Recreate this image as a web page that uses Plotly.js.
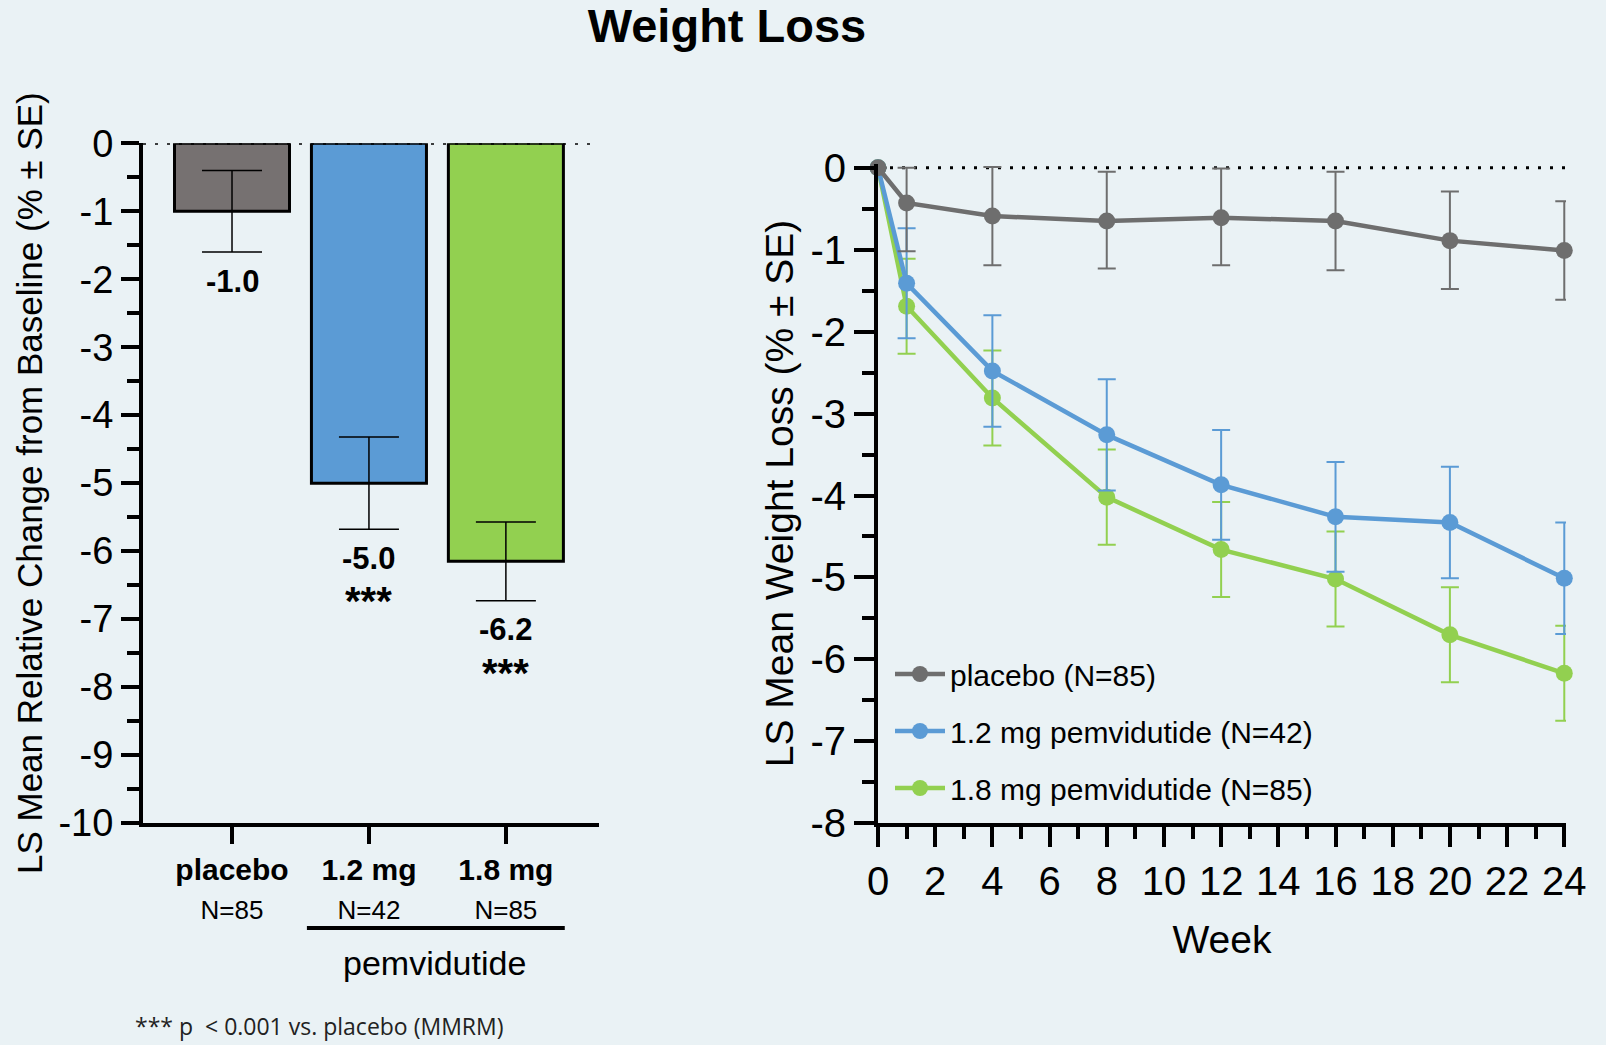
<!DOCTYPE html>
<html>
<head>
<meta charset="utf-8">
<script src="https://cdn.plot.ly/plotly-3.0.1.min.js"></script>
<style>
  html, body { margin: 0; padding: 0; background: #eaf2f5; }
  #chart { width: 1606px; height: 1045px; }
</style>
</head>
<body>
<div id="chart"></div>
<script>
// ---------- Bar chart data (left) ----------
const barCategories = ['placebo', '1.2 mg', '1.8 mg'];
const barN = ['N=85', 'N=42', 'N=85'];
const barValues = [-1.0, -5.0, -6.15];
const barSE = [0.6, 0.68, 0.58];
const barLabels = ['-1.0', '-5.0', '-6.2'];
const barSig = ['', '***', '***'];
const barColors = ['#767171', '#5b9bd5', '#92d050'];
const leftTickVals = [0, -1, -2, -3, -4, -5, -6, -7, -8, -9, -10];
const leftTickText = ['0', '-1', '-2', '-3', '-4', '-5', '-6', '-7', '-8', '-9', '-10'];

// ---------- Time-course data (right) ----------
const weeks = [0, 1, 4, 8, 12, 16, 20, 24];
const placebo = [0, -0.43, -0.59, -0.65, -0.61, -0.65, -0.89, -1.01];
const placeboSEup = [0, 0.43, 0.6, 0.6, 0.6, 0.6, 0.6, 0.6];
const placeboSEdown = [0, 0.59, 0.6, 0.58, 0.58, 0.6, 0.59, 0.6];
const dose12 = [0, -1.41, -2.48, -3.26, -3.87, -4.26, -4.33, -5.01];
const dose12SE = [0, 0.67, 0.68, 0.68, 0.67, 0.67, 0.68, 0.68];
const dose18 = [0, -1.69, -2.81, -4.02, -4.66, -5.02, -5.70, -6.17];
const dose18SE = [0, 0.58, 0.58, 0.58, 0.58, 0.58, 0.58, 0.58];
const seriesNames = ['placebo (N=85)', '1.2 mg pemvidutide (N=42)', '1.8 mg pemvidutide (N=85)'];
const lineColors = ['#6e6e6e', '#5b9bd5', '#92d050'];
const rightTickVals = [0, -1, -2, -3, -4, -5, -6, -7, -8];
const rightTickText = ['0', '-1', '-2', '-3', '-4', '-5', '-6', '-7', '-8'];

const FONT = 'Liberation Sans, Arial, Helvetica, sans-serif';

const tickText = barCategories.map((c, i) =>
  '<b>' + c + '</b><br><span style="font-size:26px">' + barN[i] + '</span>');

const traces = [];

traces.push({
  type: 'bar',
  x: barCategories,
  y: barValues,
  width: 0.84,
  marker: { color: barColors, line: { color: '#000000', width: 3 } },
  error_y: { type: 'data', array: barSE, visible: true, color: '#000000', thickness: 1.5, width: 30 },
  xaxis: 'x', yaxis: 'y',
  showlegend: false,
  hoverinfo: 'skip'
});

const lineSeries = [
  { y: dose18, up: dose18SE, down: dose18SE, idx: 2 },
  { y: dose12, up: dose12SE, down: dose12SE, idx: 1 },
  { y: placebo, up: placeboSEup, down: placeboSEdown, idx: 0 }
];
lineSeries.forEach(s => {
  traces.push({
    type: 'scatter',
    mode: 'lines+markers',
    x: weeks,
    y: s.y,
    name: seriesNames[s.idx],
    legendrank: s.idx + 1,
    legendgroup: 'g' + s.idx,
    line: { color: lineColors[s.idx], width: 4.5 },
    marker: { color: lineColors[s.idx], size: 17 },
    error_y: { type: 'data', symmetric: false, array: s.up, arrayminus: s.down, visible: true,
               color: lineColors[s.idx], thickness: 2, width: 9 },
    cliponaxis: false,
    xaxis: 'x2', yaxis: 'y2'
  });
});

const annotations = [];
barCategories.forEach((c, i) => {
  annotations.push({
    xref: 'x', yref: 'y', x: c, y: barValues[i] - barSE[i],
    text: '<b>' + barLabels[i] + '</b>', showarrow: false,
    yanchor: 'middle', yshift: -29,
    font: { family: FONT, size: 31, color: '#000000' }
  });
  if (barSig[i]) {
    annotations.push({
      xref: 'x', yref: 'y', x: c, y: barValues[i] - barSE[i],
      text: '<b>' + barSig[i] + '</b>', showarrow: false,
      yanchor: 'middle', yshift: -72,
      font: { family: FONT, size: 40, color: '#000000' }
    });
  }
});
annotations.push({
  xref: 'paper', yref: 'paper', x: 434 / 1606, y: 1 - 963 / 1045,
  text: 'pemvidutide', showarrow: false, xanchor: 'center', yanchor: 'middle',
  font: { family: FONT, size: 34, color: '#000000' }
});
annotations.push({
  xref: 'paper', yref: 'paper', x: 133 / 1606, y: 1 - 1026 / 1045,
  text: '*** p  < 0.001 vs. placebo (MMRM)', showarrow: false, xanchor: 'left', yanchor: 'middle',
  font: { family: 'Open Sans, Noto Sans, sans-serif', size: 23, color: '#222222' }
});

const layout = {
  width: 1606, height: 1045,
  margin: { l: 0, r: 0, t: 0, b: 0 },
  paper_bgcolor: '#eaf2f5',
  plot_bgcolor: 'rgba(0,0,0,0)',
  font: { family: FONT, color: '#000000' },
  title: {
    text: '<b>Weight Loss</b>',
    x: 727 / 1606, xanchor: 'center', xref: 'paper',
    y: 1 - 26 / 1045, yanchor: 'middle', yref: 'container',
    font: { family: FONT, size: 47, color: '#000000' }
  },
  showlegend: true,
  legend: {
    x: 890 / 1606, xanchor: 'left', y: 1 - 648 / 1045, yanchor: 'top',
    bgcolor: 'rgba(0,0,0,0)',
    font: { family: FONT, size: 30, color: '#000000' },
    traceorder: 'grouped', tracegroupgap: 15, itemwidth: 50
  },
  xaxis: {
    domain: [143 / 1606, 599 / 1606], anchor: 'y',
    type: 'category', range: [-0.65, 2.68],
    tickmode: 'array', tickvals: barCategories, ticktext: tickText,
    showline: true, linewidth: 4, linecolor: '#000000',
    ticks: 'outside', ticklen: 17, tickwidth: 4, tickcolor: '#000000',
    tickfont: { family: FONT, size: 30, color: '#000000' },
    showgrid: false, zeroline: false, fixedrange: true
  },
  yaxis: {
    domain: [1 - 823 / 1045, 1 - 143.3 / 1045], anchor: 'x',
    range: [-10, 0],
    tickmode: 'array', tickvals: leftTickVals, ticktext: leftTickText,
    showline: true, linewidth: 4, linecolor: '#000000',
    ticks: 'outside', ticklen: 18, tickwidth: 4, tickcolor: '#000000',
    minor: { ticks: 'outside', tick0: 0, dtick: 0.5, ticklen: 12, tickwidth: 4, tickcolor: '#000000', showgrid: false },
    tickfont: { family: FONT, size: 38, color: '#000000' },
    showgrid: false, zeroline: false, fixedrange: true,
    title: { text: 'LS Mean Relative Change from Baseline (% ± SE)', standoff: 6,
             font: { family: FONT, size: 35, color: '#000000' } }
  },
  xaxis2: {
    domain: [878 / 1606, 1566 / 1606], anchor: 'y2',
    range: [0, 24.06], tick0: 0, dtick: 2,
    showline: true, linewidth: 4, linecolor: '#000000',
    ticks: 'outside', ticklen: 20, tickwidth: 4, tickcolor: '#000000',
    minor: { ticks: 'outside', dtick: 1, ticklen: 12, tickwidth: 4, tickcolor: '#000000', showgrid: false },
    tickfont: { family: FONT, size: 40, color: '#000000' },
    showgrid: false, zeroline: false, fixedrange: true,
    title: { text: 'Week', standoff: 24, font: { family: FONT, size: 39, color: '#000000' } }
  },
  yaxis2: {
    domain: [1 - 823.3 / 1045, 1 - 163.6 / 1045], anchor: 'x2',
    range: [-8, 0.05],
    tickmode: 'array', tickvals: rightTickVals, ticktext: rightTickText,
    showline: true, linewidth: 4, linecolor: '#000000',
    ticks: 'outside', ticklen: 20, tickwidth: 4, tickcolor: '#000000',
    minor: { ticks: 'outside', tick0: 0, dtick: 0.5, ticklen: 12, tickwidth: 4, tickcolor: '#000000', showgrid: false },
    tickfont: { family: FONT, size: 40, color: '#000000' },
    showgrid: false, zeroline: false, fixedrange: true,
    title: { text: 'LS Mean Weight Loss (% ± SE)', standoff: 6,
             font: { family: FONT, size: 39, color: '#000000' } }
  },
  shapes: [
    { type: 'line', xref: 'x', yref: 'y', x0: -0.65, x1: 2.635, y0: 0, y1: 0,
      line: { color: '#000000', width: 3, dash: '3px,9px' }, layer: 'above' },
    { type: 'line', xref: 'x2', yref: 'y2', x0: 0, x1: 24.06, y0: 0, y1: 0,
      line: { color: '#000000', width: 3, dash: '3px,9px' }, layer: 'below' },
    { type: 'line', xref: 'x', yref: 'paper', x0: 0.547, x1: 2.43, y0: 1 - 928 / 1045, y1: 1 - 928 / 1045,
      line: { color: '#000000', width: 4 } }
  ],
  annotations: annotations
};

Plotly.newPlot('chart', traces, layout, { displayModeBar: false, staticPlot: true });
</script>
</body>
</html>
